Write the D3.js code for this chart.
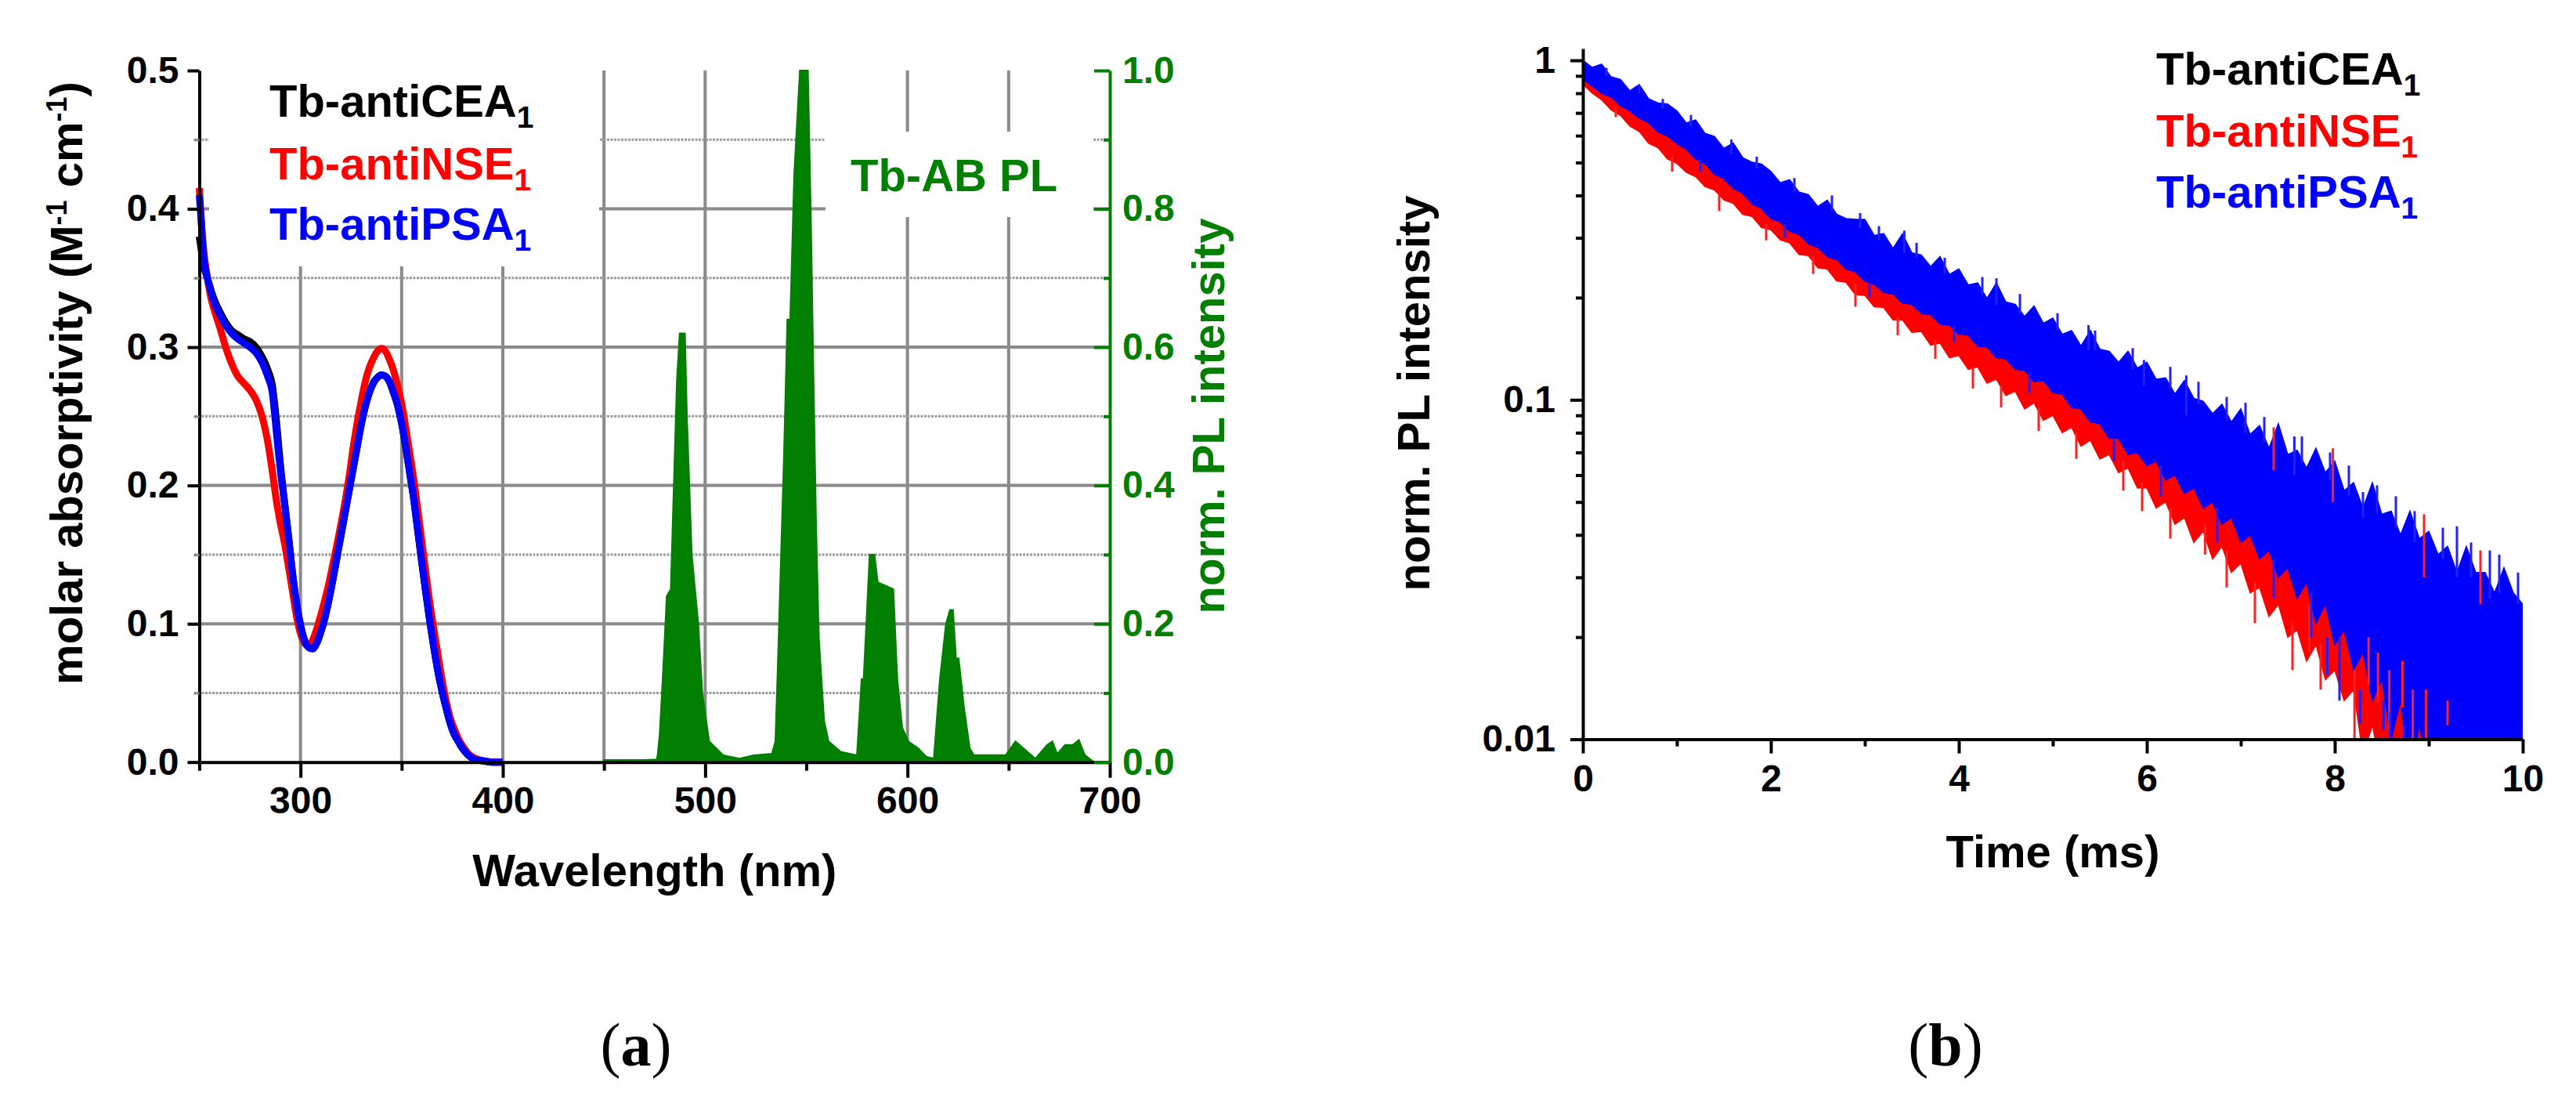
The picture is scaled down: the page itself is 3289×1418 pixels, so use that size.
<!DOCTYPE html>
<html><head><meta charset="utf-8">
<script src="https://cdn.jsdelivr.net/npm/d3@7"></script>
<style>
body{margin:0;background:#fff;}
svg text{font-family:"Liberation Sans",Arial,Helvetica,sans-serif;font-weight:bold;}
</style></head><body>
<svg id="chart" width="3289" height="1418"></svg>
<script>
// ---------------- DATA ----------------
// Panel (a): absorption spectra
const absWl = [250,251,252,254,256,258,260,263,266,269,272,275,278,281,284,286,288,290,292,294,296,298,300,302,304,306,308,310,312,314,316,318,320,322,324,326,328,330,332,334,336,338,340,342,344,346,348,350,352,354,356,358,360,362,364,366,368,370,372,374,376,378,380,383,386,390,395,400];
const absCEA = [0.38,0.37,0.36,0.35,0.34,0.332,0.326,0.318,0.312,0.309,0.306,0.304,0.300,0.293,0.283,0.273,0.248,0.216,0.189,0.164,0.137,0.115,0.099,0.088,0.083,0.082,0.086,0.094,0.104,0.117,0.132,0.148,0.164,0.180,0.196,0.212,0.228,0.244,0.257,0.267,0.274,0.278,0.280,0.279,0.275,0.267,0.258,0.245,0.228,0.209,0.190,0.167,0.144,0.122,0.101,0.082,0.065,0.051,0.039,0.028,0.020,0.015,0.010,0.005,0.002,0.001,0.0,0.0];
const absNSE = [0.415,0.39,0.372,0.350,0.334,0.324,0.315,0.300,0.288,0.279,0.274,0.269,0.262,0.250,0.230,0.211,0.190,0.173,0.159,0.142,0.124,0.106,0.093,0.086,0.084,0.088,0.096,0.106,0.117,0.129,0.143,0.157,0.172,0.188,0.206,0.227,0.245,0.261,0.275,0.285,0.292,0.297,0.299,0.297,0.291,0.283,0.272,0.259,0.242,0.223,0.204,0.182,0.159,0.136,0.114,0.095,0.077,0.059,0.044,0.032,0.024,0.017,0.012,0.006,0.003,0.001,0.0,0.0];
const absPSA = [0.41,0.39,0.368,0.350,0.339,0.330,0.324,0.316,0.310,0.306,0.303,0.300,0.296,0.289,0.278,0.268,0.240,0.212,0.189,0.164,0.137,0.115,0.099,0.088,0.083,0.082,0.086,0.094,0.104,0.117,0.132,0.148,0.164,0.180,0.196,0.212,0.228,0.244,0.257,0.267,0.274,0.278,0.280,0.279,0.275,0.267,0.258,0.245,0.228,0.209,0.190,0.167,0.144,0.122,0.101,0.082,0.065,0.051,0.039,0.028,0.020,0.015,0.010,0.005,0.002,0.001,0.0,0.0];
// Panel (a): Tb-AB photoluminescence (right axis)
const plWl = [450,460,470,476,476.5,477.5,479,481,483,484.5,486,487.4,490,491,493.4,496.6,498.6,502,509,517,524,533,534.7,536,539,540.6,542,542.6,544,546.8,550.8,552.2,553.6,554.8,556.2,558.8,561,567,575,577.3,578.3,581.3,583.7,585.3,593,595,597.4,600.4,605.3,609.2,613,616,619,621,622.5,624,625.3,627.9,630.8,632.8,648.5,653.4,657.3,663.2,669,671.6,674,677.9,681.8,684.7,687.7,692.2];
const plVal = [0.003,0.003,0.003,0.004,0.01,0.04,0.12,0.24,0.25,0.40,0.55,0.62,0.62,0.50,0.30,0.20,0.10,0.03,0.01,0.005,0.01,0.012,0.03,0.15,0.45,0.64,0.64,0.70,0.85,1.0,1.0,0.80,0.55,0.35,0.18,0.06,0.03,0.015,0.01,0.12,0.12,0.30,0.30,0.26,0.25,0.12,0.05,0.03,0.02,0.008,0.005,0.12,0.20,0.22,0.22,0.15,0.15,0.08,0.02,0.01,0.01,0.03,0.02,0.005,0.025,0.03,0.012,0.025,0.025,0.032,0.01,0.0];
// Panel (a) ticks
const absTicks = [0.0,0.1,0.2,0.3,0.4,0.5];
const absMinorTicks = [0.05,0.15,0.25,0.35,0.45];
const plTicks = [0.0,0.2,0.4,0.6,0.8,1.0];
const plMinorTicks = [0.1,0.3,0.5,0.7,0.9];
const wlTicks = [300,400,500,600,700];
const wlMinorTicks = [250,350,450,550,650];
const wlGrid = [300,350,400,450,500,550,600,650];

// Panel (b): PL decays (band envelopes of the noisy traces)
const timeFine = [0,0.1,0.2,0.3,0.4,0.5,0.6,0.7,0.8,0.9,1,1.1,1.2,1.3,1.4,1.5,1.6,1.7,1.8,1.9,2,2.1,2.2,2.3,2.4,2.5,2.6,2.7,2.8,2.9,3,3.1,3.2,3.3,3.4,3.5,3.6,3.7,3.8,3.9,4,4.1,4.2,4.3,4.4,4.5,4.6,4.7,4.8,4.9,5,5.1,5.2,5.3,5.4,5.5,5.6,5.7,5.8,5.9,6,6.1,6.2,6.3,6.4,6.5,6.6,6.7,6.8,6.9,7,7.1,7.2,7.3,7.4,7.5,7.6,7.7,7.8,7.9,8,8.1,8.2,8.3,8.4,8.5,8.6,8.7,8.8,8.9,9,9.1,9.2,9.3,9.4,9.5,9.6,9.7,9.8,9.9,10];
const timeCoarse = [0,0.5,1,1.5,2,2.5,3,3.5,4,4.5,5,5.5,6,6.5,7,7.5,8,8.5,9,9.5,10];
const psaUpper = [1.0,0.953,0.974,0.894,0.878,0.813,0.848,0.770,0.749,0.744,
0.710,0.654,0.667,0.609,0.597,0.550,0.571,0.517,0.501,0.495,
0.471,0.436,0.445,0.409,0.402,0.371,0.387,0.352,0.342,0.340,
0.340,0.305,0.309,0.279,0.308,0.271,0.267,0.247,0.264,0.234,
0.243,0.218,0.221,0.199,0.221,0.194,0.191,0.176,0.189,0.168,
0.174,0.156,0.160,0.144,0.160,0.141,0.139,0.129,0.139,0.124,
0.129,0.115,0.116,0.104,0.114,0.101,0.099,0.091,0.097,0.086,
0.094,0.079,0.084,0.072,0.085,0.069,0.071,0.063,0.072,0.061,
0.066,0.054,0.057,0.048,0.057,0.046,0.047,0.040,0.047,0.039,
0.041,0.035,0.037,0.031,0.037,0.031,0.031,0.027,0.032,0.027,
0.025];
const psaLower = [0.88,0.84,0.80,0.78,0.735,0.71,0.675,0.655,0.615,0.598,
0.568,0.548,0.512,0.495,0.462,0.448,0.42,0.406,0.378,0.366,
0.342,0.334,0.314,0.307,0.288,0.281,0.264,0.259,0.243,0.238,
0.224,0.219,0.207,0.205,0.193,0.191,0.180,0.178,0.167,0.166,
0.156,0.155,0.144,0.143,0.133,0.132,0.123,0.122,0.113,0.114,
0.105,0.104,0.095,0.094,0.086,0.085,0.077,0.077,0.069,0.070,
0.064,0.066,0.058,0.060,0.053,0.055,0.048,0.050,0.043,0.045,
0.038,0.040,0.034,0.036,0.030,0.032,0.026,0.029,0.022,0.025,
0.019,0.021,0.016,0.018,0.013,0.015,0.010,0.013,0.008,0.011,
0.008,0.010,0.007,0.009,0.007,0.007,0.007,0.007,0.007,0.007,
0.007];
const nseLower = [0.85,0.80,0.765,0.715,0.688,0.64,0.617,0.570,0.553,0.512,
0.497,0.468,0.454,0.425,0.415,0.388,0.379,0.352,0.347,0.322,
0.317,0.296,0.290,0.268,0.266,0.245,0.243,0.224,0.222,0.204,
0.203,0.188,0.187,0.172,0.172,0.158,0.159,0.145,0.147,0.133,
0.135,0.123,0.125,0.112,0.115,0.103,0.106,0.094,0.098,0.087,
0.090,0.080,0.083,0.073,0.076,0.067,0.069,0.061,0.063,0.055,
0.055,0.048,0.050,0.043,0.045,0.038,0.041,0.034,0.037,0.031,
0.033,0.027,0.028,0.023,0.025,0.020,0.021,0.017,0.019,0.015,
0.016,0.013,0.014,0.009,0.011,0.008,0.008,0.008,0.008,0.008,
0.008,0.008,0.008,0.008,0.008,0.008,0.008,0.008,0.008,0.008,
0.008];
const nseUpper = [0.97,0.80,0.66,0.535,0.435,0.36,0.30,0.25,0.21,0.178,0.15,0.128,0.11,0.092,0.076,0.063,0.052,0.042,0.034,0.028,0.023];
const ceaUpper = [0.98,0.81,0.67,0.545,0.44,0.365,0.305,0.255,0.215,0.18,0.152,0.13,0.112,0.094,0.078,0.064,0.053,0.043,0.035,0.029,0.024];
const ceaLower = [0.88,0.70,0.56,0.45,0.36,0.29,0.23,0.185,0.15,0.122,0.10,0.082,0.066,0.053,0.042,0.033,0.024,0.017,0.012,0.009,0.008];
// individual noise spikes: time, start value, end value
const nseSpikeT    = [0.35,0.95,1.45,1.95,2.45,2.9,3.35,3.75,4.15,4.45,4.85,5.25,5.75,5.95,6.25,6.62,6.85,7.15,7.35,7.55,7.73,7.85,7.98,8.21,8.36,8.46,8.58,8.72,8.83,8.95,8.97,9.2,9.55];
const nseSpikeFrom = [0.73,0.52,0.40,0.33,0.265,0.22,0.175,0.15,0.125,0.11,0.095,0.08,0.066,0.057,0.048,0.043,0.036,0.029,0.062,0.022,0.025,0.019,0.05,0.016,0.02,0.018,0.016,0.017,0.014,0.03,0.014,0.013,0.025];
const nseSpikeTo   = [0.68,0.47,0.36,0.295,0.235,0.188,0.155,0.132,0.108,0.095,0.081,0.067,0.054,0.047,0.039,0.035,0.028,0.022,0.083,0.016,0.0181,0.014,0.072,0.005,0.0144,0.0128,0.0107,0.0124,0.005,0.046,0.005,0.011,0.036];
const psaSpikeT    = [0.25,0.6,0.85,1.15,1.25,1.58,1.85,2.15,2.25,2.65,2.95,3.05,3.15,3.42,3.55,3.85,3.95,4.25,4.4,4.65,4.75,5.05,5.38,5.45,5.65,5.85,5.97,6.15,6.25,6.42,6.55,6.75,6.85,7.05,7.25,7.35,7.57,7.65,7.75,7.92,7.95,8.05,8.15,8.27,8.3,8.45,8.52,8.59,8.65,8.74,8.85,8.91,9.07,9.15,9.27,9.3,9.45,9.65,9.75,9.95];
const psaSpikeFrom = [0.90,0.80,0.72,0.64,0.51,0.53,0.48,0.33,0.41,0.36,0.32,0.22,0.295,0.27,0.262,0.235,0.165,0.205,0.19,0.18,0.12,0.16,0.14,0.14,0.077,0.123,0.11,0.064,0.108,0.09,0.097,0.048,0.087,0.08,0.075,0.034,0.06,0.065,0.027,0.02,0.058,0.02,0.052,0.014,0.045,0.046,0.013,0.012,0.042,0.011,0.038,0.01,0.01,0.034,0.009,0.03,0.03,0.026,0.027,0.025];
const psaSpikeTo   = [0.95,0.845,0.77,0.69,0.47,0.585,0.52,0.30,0.45,0.40,0.355,0.20,0.325,0.315,0.29,0.262,0.148,0.23,0.228,0.205,0.105,0.18,0.166,0.16,0.066,0.142,0.131,0.052,0.125,0.118,0.113,0.038,0.102,0.098,0.089,0.026,0.078,0.078,0.02,0.0155,0.07,0.013,0.064,0.0111,0.0535,0.056,0.0107,0.005,0.052,0.005,0.047,0.005,0.005,0.042,0.005,0.0424,0.038,0.036,0.035,0.031];
// Panel (b) ticks
const decayTicks = [0.01,0.1,1];
const decayTickLabels = ["0.01","0.1","1"];
const decayMinorTicks = [0.02,0.03,0.04,0.05,0.06,0.07,0.08,0.09,0.2,0.3,0.4,0.5,0.6,0.7,0.8,0.9];
const timeTicks = [0,2,4,6,8,10];
const timeMinorTicks = [1,3,5,7,9];

const seriesNames = ["Tb-antiCEA","Tb-antiNSE","Tb-antiPSA"];
const seriesColors = ["#000000","#ff0000","#0000ff"];
const green = "#007f00";

// ---------------- DRAWING ----------------
const svg = d3.select("#chart");
const xA = d3.scaleLinear().domain([250,700]).range([254.5,1417]);
const yA = d3.scaleLinear().domain([0,0.5]).range([972.7,90]);
const yA2 = d3.scaleLinear().domain([0,1]).range([972.7,90]);
const xB = d3.scaleLinear().domain([0,10]).range([2021,3221]);
const yB = d3.scaleLog().domain([0.01,1.083]).range([943.6,62]);

// ---- panel a gridlines
const gA = svg.append("g");
gA.selectAll("line.vg").data(wlGrid).join("line")
  .attr("x1",d=>xA(d)).attr("x2",d=>xA(d)).attr("y1",yA(0)).attr("y2",yA(0.5))
  .attr("stroke","#8a8a8a").attr("stroke-width",4);
gA.selectAll("line.hg").data(absTicks.slice(1,5)).join("line")
  .attr("x1",xA(250)).attr("x2",xA(700)).attr("y1",d=>yA(d)).attr("y2",d=>yA(d))
  .attr("stroke","#8a8a8a").attr("stroke-width",4);
gA.selectAll("line.hm").data(absMinorTicks).join("line")
  .attr("x1",xA(250)-6).attr("x2",xA(700)).attr("y1",d=>yA(d)).attr("y2",d=>yA(d))
  .attr("stroke","#9a9a9a").attr("stroke-width",3).attr("stroke-dasharray","3,1.5");
// white boxes behind the legends
gA.append("rect").attr("x",267).attr("y",88).attr("width",498).attr("height",252).attr("fill","#fff");
gA.append("rect").attr("x",1054).attr("y",168).attr("width",342).attr("height",109).attr("fill","#fff");

// ---- PL area
const plData = plWl.map((w,i)=>({w:w,v:plVal[i]}));
gA.append("path").datum(plData)
  .attr("d",d3.area().x(d=>xA(d.w)).y0(yA2(0)).y1(d=>yA2(d.v)))
  .attr("fill",green).attr("stroke",green).attr("stroke-width",2);

// ---- absorption lines
[absCEA,absNSE,absPSA].forEach((arr,k)=>{
  const data = absWl.map((w,i)=>({w:w,v:arr[i]}));
  gA.append("path").datum(data)
    .attr("d",d3.line().x(d=>xA(d.w)).y(d=>yA(d.v)).curve(d3.curveMonotoneX))
    .attr("fill","none").attr("stroke",seriesColors[k]).attr("stroke-width",9)
    .attr("stroke-linejoin","round");
});

function styleAxis(g,color,fs){
  g.attr("font-family",null).attr("font-size",null);
  g.select(".domain").attr("stroke",color).attr("stroke-width",4);
  g.selectAll(".tick line").attr("stroke",color).attr("stroke-width",4);
  g.selectAll(".tick text").attr("fill",color).style("font-size",fs+"px");
}
// left axis a
const axL = svg.append("g").attr("transform",`translate(${xA(250)},0)`)
  .call(d3.axisLeft(yA).tickValues(absTicks).tickFormat(d3.format(".1f")).tickSizeInner(15).tickSizeOuter(0).tickPadding(11));
styleAxis(axL,"#000",48);
const axLm = svg.append("g").attr("transform",`translate(${xA(250)},0)`)
  .call(d3.axisLeft(yA).tickValues(absMinorTicks).tickFormat("").tickSizeInner(7).tickSizeOuter(0));
axLm.select(".domain").remove();
axLm.selectAll(".tick line").attr("stroke","#888").attr("stroke-width",3);
// bottom axis a
const axB = svg.append("g").attr("transform",`translate(0,${yA(0)})`)
  .call(d3.axisBottom(xA).tickValues(wlTicks).tickFormat(d3.format("d")).tickSizeInner(20).tickSizeOuter(0).tickPadding(11));
styleAxis(axB,"#000",48);
const axBm = svg.append("g").attr("transform",`translate(0,${yA(0)})`)
  .call(d3.axisBottom(xA).tickValues(wlMinorTicks).tickFormat("").tickSizeInner(11).tickSizeOuter(0));
axBm.select(".domain").remove();
axBm.selectAll(".tick line").attr("stroke","#000").attr("stroke-width",4);
// right axis a (green)
const axR = svg.append("g").attr("transform",`translate(${xA(700)},0)`)
  .call(d3.axisRight(yA2).tickValues(plTicks).tickFormat(d3.format(".1f")).tickSizeInner(-20).tickSizeOuter(0).tickPadding(16));
styleAxis(axR,green,48);
const axRm = svg.append("g").attr("transform",`translate(${xA(700)},0)`)
  .call(d3.axisRight(yA2).tickValues(plMinorTicks).tickFormat("").tickSizeInner(-8).tickSizeOuter(0));
axRm.select(".domain").remove();
axRm.selectAll(".tick line").attr("stroke",green).attr("stroke-width",4);

// ---- panel a texts
svg.append("text").attr("x",xA(475)).attr("y",1131).attr("text-anchor","middle")
  .style("font-size","58px").attr("fill","#000").text("Wavelength (nm)");
const tl = svg.append("text").attr("transform","translate(105,489) rotate(-90)")
  .attr("text-anchor","middle").style("font-size","58px").attr("fill","#000");
tl.append("tspan").text("molar absorptivity (M");
tl.append("tspan").attr("baseline-shift","super").style("font-size","36px").text("-1");
tl.append("tspan").text(" cm");
tl.append("tspan").attr("baseline-shift","super").style("font-size","36px").text("-1");
tl.append("tspan").text(")");
svg.append("text").attr("transform","translate(1563,531) rotate(-90)")
  .attr("text-anchor","middle").style("font-size","58px").attr("fill",green).text("norm. PL intensity");
svg.append("text").attr("x",1086).attr("y",244).style("font-size","58px").attr("fill",green).text("Tb-AB PL");

function legend(x,ys){
  seriesNames.forEach((n,k)=>{
    const t = svg.append("text").attr("x",x).attr("y",ys[k]).style("font-size","58px").attr("fill",seriesColors[k]);
    t.append("tspan").text(n);
    t.append("tspan").attr("dy",14).style("font-size","39px").text("1");
  });
}
legend(344,[149,229,306]);

// ---- panel b
svg.append("defs").append("clipPath").attr("id","clipB").append("rect")
  .attr("x",xB(0)).attr("y",yB(1.083)).attr("width",xB(10)-xB(0)).attr("height",yB(0.01)-yB(1.083));
const gB = svg.append("g").attr("clip-path","url(#clipB)");
const lineB = d3.line().x(d=>xB(d[0])).y(d=>yB(d[1]));
function bandPath(tu,up,tl2,lo){
  const pts = tu.map((t,i)=>[t,up[i]]).concat(tl2.map((t,i)=>[t,lo[i]]).reverse());
  return lineB(pts)+"Z";
}
gB.append("path").attr("d",bandPath(timeCoarse,ceaUpper,timeCoarse,ceaLower))
  .attr("fill","#000").attr("stroke","#000").attr("stroke-width",1.5);
gB.append("path").attr("d",bandPath(timeCoarse,nseUpper,timeFine,nseLower))
  .attr("fill","#ff0000").attr("stroke","#ff0000").attr("stroke-width",1.5);
gB.append("path").attr("d",bandPath(timeFine,psaUpper,timeFine,psaLower))
  .attr("fill","#0000ff").attr("stroke","#0000ff").attr("stroke-width",1.5);
gB.selectAll("line.ns").data(nseSpikeT).join("line")
  .attr("x1",d=>xB(d)).attr("x2",d=>xB(d))
  .attr("y1",(d,i)=>yB(nseSpikeFrom[i])).attr("y2",(d,i)=>yB(nseSpikeTo[i]))
  .attr("stroke","#ff2020").attr("stroke-width",3);
gB.selectAll("line.ps").data(psaSpikeT).join("line")
  .attr("x1",d=>xB(d)).attr("x2",d=>xB(d))
  .attr("y1",(d,i)=>yB(psaSpikeFrom[i])).attr("y2",(d,i)=>yB(psaSpikeTo[i]))
  .attr("stroke","#2020ff").attr("stroke-width",3);

const bL = svg.append("g").attr("transform",`translate(${xB(0)},0)`)
  .call(d3.axisLeft(yB).tickValues(decayTicks).tickFormat((d,i)=>decayTickLabels[i]).tickSizeInner(16).tickSizeOuter(0).tickPadding(19));
styleAxis(bL,"#000",48);
const bLm = svg.append("g").attr("transform",`translate(${xB(0)},0)`)
  .call(d3.axisLeft(yB).tickValues(decayMinorTicks).tickFormat("").tickSizeInner(9).tickSizeOuter(0));
bLm.select(".domain").remove();
bLm.selectAll(".tick line").attr("stroke","#000").attr("stroke-width",4);
const bB = svg.append("g").attr("transform",`translate(0,${yB(0.01)})`)
  .call(d3.axisBottom(xB).tickValues(timeTicks).tickFormat(d3.format("d")).tickSizeInner(18).tickSizeOuter(0).tickPadding(14));
styleAxis(bB,"#000",48);
const bBm = svg.append("g").attr("transform",`translate(0,${yB(0.01)})`)
  .call(d3.axisBottom(xB).tickValues(timeMinorTicks).tickFormat("").tickSizeInner(9).tickSizeOuter(0));
bBm.select(".domain").remove();
bBm.selectAll(".tick line").attr("stroke","#000").attr("stroke-width",4);

svg.append("text").attr("x",xB(5)).attr("y",1107).attr("text-anchor","middle")
  .style("font-size","58px").attr("fill","#000").text("Time (ms)");
svg.append("text").attr("transform","translate(1825,502) rotate(-90)")
  .attr("text-anchor","middle").style("font-size","58px").attr("fill","#000").text("norm. PL intensity");
legend(2753,[108,187,265]);

// ---- panel captions
function caption(x,letter){
  const t = svg.append("text").attr("x",x).attr("y",1360).attr("text-anchor","middle")
    .style("font-family","'Liberation Serif','Times New Roman',serif").style("font-size","78px")
    .style("font-weight","normal").attr("fill","#000");
  t.append("tspan").text("(");
  t.append("tspan").style("font-weight","bold").text(letter);
  t.append("tspan").text(")");
}
caption(812,"a");
caption(2484,"b");
</script>
</body></html>
